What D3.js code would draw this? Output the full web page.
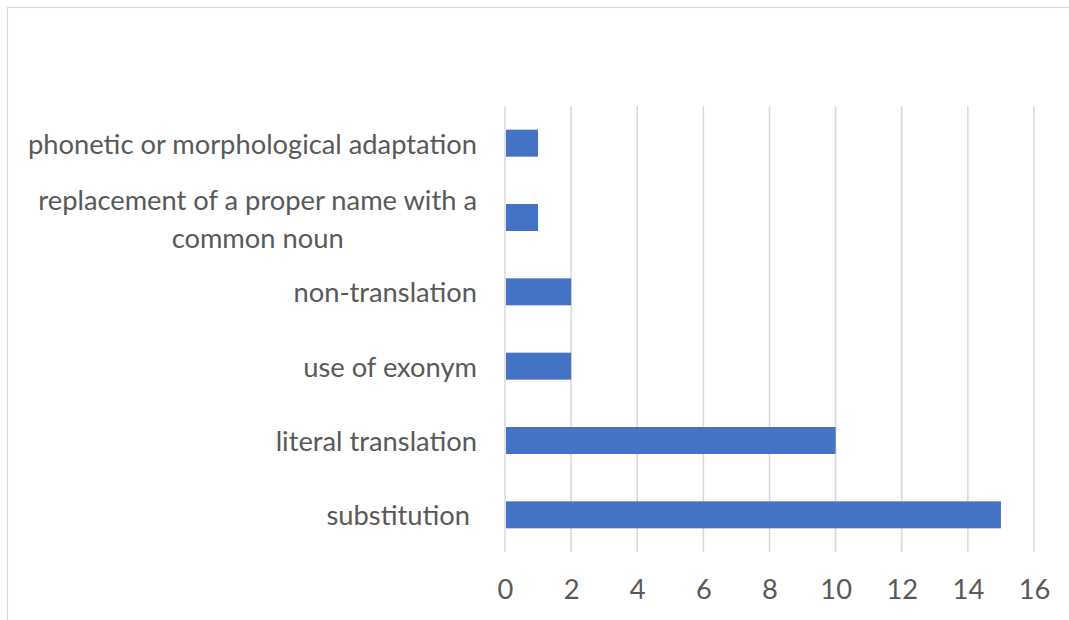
<!DOCTYPE html>
<html>
<head>
<meta charset="utf-8">
<script src="https://cdn.jsdelivr.net/npm/d3@7"></script>
<style>
  html, body { margin: 0; padding: 0; background: #fff; }
  svg { display: block; }
  text { font-family: Lato, "Open Sans", sans-serif; fill: #595959; }
</style>
</head>
<body>
<svg id="chart" width="1069" height="620"></svg>
<script>
const categories = [
  ["phonetic or morphological adaptation"],
  ["replacement of a proper name with a", "common noun"],
  ["non-translation"],
  ["use of exonym"],
  ["literal translation"],
  ["substitution "]
];
const values = [1, 1, 2, 2, 10, 15];
const xTicks = [0, 2, 4, 6, 8, 10, 12, 14, 16];

const svg = d3.select("#chart");
const W = 1069, H = 620;
const plot = { left: 505, right: 1034, top: 106, bottom: 552 };
const FS = "27.3px";

// chart border (cropped on right and bottom)
svg.append("rect")
  .attr("x", 7.5).attr("y", 7.5)
  .attr("width", W + 20).attr("height", H + 20)
  .attr("fill", "none").attr("stroke", "#d9d9d9").attr("stroke-width", 1.2);

const x = d3.scaleLinear().domain([0, 16]).range([plot.left, plot.right]);
const idx = categories.map((d, i) => i);
const y = d3.scaleBand().domain(idx).range([plot.top, plot.bottom])
  .paddingInner(0.637).paddingOuter(0.3185);

// gridlines
svg.append("g").selectAll("line").data(xTicks).join("line")
  .attr("x1", d => x(d)).attr("x2", d => x(d))
  .attr("y1", plot.top).attr("y2", plot.bottom)
  .attr("stroke", "#d9d9d9").attr("stroke-width", 1.5);

// bars
svg.append("g").selectAll("rect").data(values).join("rect")
  .attr("x", x(0) + 1)
  .attr("y", (d, i) => y(i))
  .attr("width", d => x(d) - x(0) - 1)
  .attr("height", y.bandwidth())
  .attr("fill", "#4472C4");

// x tick labels
const xAxis = d3.axisBottom(x).tickValues(xTicks).tickSize(0).tickPadding(0);
const gx = svg.append("g").attr("transform", `translate(0, ${plot.bottom})`).call(xAxis);
gx.select(".domain").remove();
gx.selectAll("text")
  .attr("y", 47).attr("dy", 0)
  .style("font-family", "Lato, 'Open Sans', sans-serif")
  .style("font-size", FS).style("fill", "#595959");

// category labels (right-aligned block, multi-line centered)
const labelRight = 477;
const lineGap = 38;
const lg = svg.append("g");
categories.forEach((lines, i) => {
  const cy = y(i) + y.bandwidth() / 2;
  const t = lg.append("text")
    .style("font-size", FS)
    .style("white-space", "pre")
    .attr("dominant-baseline", "central");
  if (lines.length === 1) {
    t.attr("x", labelRight).attr("y", cy).attr("text-anchor", "end").text(lines[0]);
  } else {
    const tmp = lg.append("text").style("font-size", FS).text(lines[0]);
    const w = tmp.node().getComputedTextLength();
    tmp.remove();
    const cx = labelRight - w / 2;
    t.attr("text-anchor", "middle");
    lines.forEach((ln, j) => {
      t.append("tspan").attr("x", cx)
        .attr("y", cy + (j - (lines.length - 1) / 2) * lineGap)
        .text(ln);
    });
  }
});
</script>
</body>
</html>
